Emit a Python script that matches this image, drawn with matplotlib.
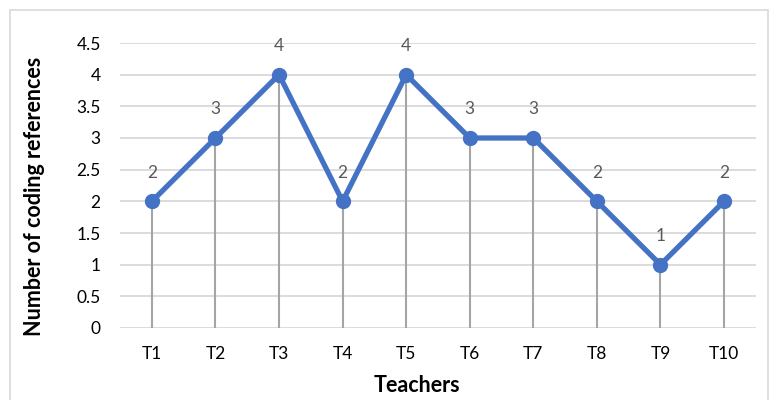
import matplotlib.pyplot as plt
from matplotlib.patches import Rectangle

teachers = ['T1', 'T2', 'T3', 'T4', 'T5', 'T6', 'T7', 'T8', 'T9', 'T10']
refs = [2, 3, 4, 2, 4, 3, 3, 2, 1, 2]
yticks = [0, 0.5, 1, 1.5, 2, 2.5, 3, 3.5, 4, 4.5]

plt.rcParams['font.family'] = ['Lato', 'DejaVu Sans']

fig = plt.figure(figsize=(7.8, 4.0), dpi=100)
ax = fig.add_axes([0.154, 0.18, 0.815, 0.7125])

x = list(range(1, len(teachers) + 1))

# drop lines from each point down to the axis
ax.vlines(x, 0, refs, color='#A5A5A5', linewidth=1.5, zorder=2)
ax.plot(x, refs, color='#4472C4', linewidth=3.8, marker='o', markersize=10,
        zorder=3, solid_capstyle='round')

for xi, yi in zip(x, refs):
    ax.annotate(str(yi), (xi, yi), xytext=(0, 15), textcoords='offset points',
                ha='center', va='bottom', fontsize=12.5, color='#595959')

ax.set_xlim(0.5, len(teachers) + 0.5)
ax.set_ylim(0, 4.5)
ax.set_xticks(x)
ax.set_xticklabels(teachers)
ax.set_yticks(yticks)
ax.set_yticklabels([f'{t:g}' for t in yticks])
ax.tick_params(length=0, labelsize=12.5, colors='#000000')
ax.tick_params(axis='y', pad=14)
ax.tick_params(axis='x', pad=13)
ax.grid(axis='y', color='#D9D9D9', linewidth=1.3, zorder=0)
for s in ax.spines.values():
    s.set_visible(False)

ax.set_xlabel('Teachers', fontsize=15.5, fontweight='bold', labelpad=5)
ax.xaxis.set_label_coords(0.467, -0.165)
ax.set_ylabel('Number of coding references', fontsize=15.5, fontweight='bold')
ax.yaxis.set_label_coords(-0.118, 0.463)

# chart area border
fig.patches.append(Rectangle((10 / 780, -0.05), 758 / 780, 0.05 + 390 / 400,
                             transform=fig.transFigure, fill=False,
                             edgecolor='#D9D9D9', linewidth=1.2))

fig.savefig('out.png', dpi=100)
